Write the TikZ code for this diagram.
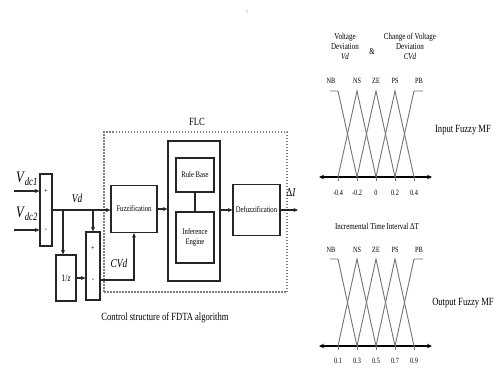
\documentclass[tikz,border=0pt]{standalone}
\usepackage{fontspec}
\setmainfont[FakeStretch=0.78]{Liberation Serif}
\usetikzlibrary{arrows.meta}
\begin{document}
\begin{tikzpicture}[x=1pt,y=-1pt,
  line/.style={draw=black!85,line width=1.2pt},
  arr/.style={line,-{Stealth[length=4.5pt,width=4pt]}},
  box/.style={draw=black!85,line width=1.2pt,inner sep=0pt,align=center,font=\fontsize{8.5}{10}\selectfont},
  lbl/.style={inner sep=0pt,align=center},
  sgn/.style={inner sep=0pt,font=\fontsize{8}{8}\selectfont},
  flcbox/.style={draw=black!50,line width=1.5pt,dash pattern=on 1.5pt off 1.5pt,inner sep=0pt},
  mf/.style={draw=black!55,line width=0.9pt},
  mfl/.style={inner sep=0pt,font=\fontsize{8}{8}\selectfont},
  ax/.style={draw=black,line width=1.4pt,{Stealth[length=5pt,width=4.5pt]}-{Stealth[length=5pt,width=4.5pt]}}
]
\useasboundingbox (0,0) rectangle (495,368);

\node[lbl,text=black!30,font=\fontsize{5}{6}\selectfont] (zero) at (247,12) {0};

% ---------- block diagram ----------
\node[box,minimum width=12pt,minimum height=72pt] (sum1) at (46,210) {};
\node[sgn] (p1) at (46,191) {+};
\node[sgn] (m1) at (46,230) {-};
\coordinate (i1) at (14,191);
\coordinate (i2) at (14,230);
\draw[arr] (i1) -- (i1 -| sum1.west);
\draw[arr] (i2) -- (i2 -| sum1.west);
\node[lbl,font=\fontsize{16}{16}\selectfont] (vdc1) at (27,179) {\textit{V}\textsubscript{\textit{dc1}}};
\node[lbl,font=\fontsize{16}{16}\selectfont] (vdc2) at (27,214) {\textit{V}\textsubscript{\textit{dc2}}};

\node[box,minimum width=46pt,minimum height=47pt] (fuzz) at (134,209) {Fuzzification};
\node[box,minimum width=52pt,minimum height=140pt] (kb) at (194,211) {};
\node[box,minimum width=38pt,minimum height=34pt] (rule) at (195,175) {Rule Base};
\node[box,minimum width=38pt,minimum height=51pt] (inf) at (195,237.5) {Inference\\Engine};
\node[box,minimum width=47pt,minimum height=51pt] (defuzz) at (256.5,210) {Defuzzification};

\node[flcbox,minimum width=183pt,minimum height=160pt] (flc) at (195.5,212) {};
\node[lbl,font=\fontsize{11}{11}\selectfont] (flclbl) at (197,122) {FLC};

\draw[arr] (sum1.east) -- (sum1.east -| fuzz.west);
\node[lbl,font=\fontsize{12}{12}\selectfont\itshape] (vd) at (77,198) {Vd};

\coordinate (b1) at (63,210);
\coordinate (b2) at (93,210);
\node[box,minimum width=20pt,minimum height=46pt,font=\fontsize{10}{10}\selectfont] (zbox) at (66,278) {1/\textit{z}};
\node[box,minimum width=14pt,minimum height=68pt] (sum2) at (93,266) {};
\node[sgn] (p2) at (93,248) {+};
\node[sgn] (m2) at (93,280) {-};
\draw[arr] (b1) -- (b1 |- zbox.north);
\draw[arr] (b2) -- (sum2.north);
\draw[arr] (zbox.east) -- (zbox.east -| sum2.west);
\draw[arr] (sum2.east |- m2) -| (fuzz.south);
\node[lbl,font=\fontsize{12}{12}\selectfont\itshape] (cvd) at (119,263) {CVd};

\draw[arr] (fuzz.east) -- (fuzz.east -| kb.west);
\draw[line] (rule.south) -- (inf.north);
\draw[arr] (kb.east |- defuzz.west) -- (defuzz.west);
\coordinate (out) at (298,210);
\draw[arr] (defuzz.east) -- (out);
\node[lbl,font=\fontsize{12}{12}\selectfont] (di) at (291,193) {Δ\textit{I}};

\node[lbl,font=\fontsize{11}{11}\selectfont] (cap) at (165,318) {Control structure of FDTA algorithm};

% ---------- input MF ----------
\node[lbl,font=\fontsize{9}{10}\selectfont] (vdev) at (345,46) {Voltage\\Deviation\\\textit{Vd}};
\node[lbl,font=\fontsize{9}{10}\selectfont] (amp) at (372,52) {\&};
\node[lbl,font=\fontsize{9}{10}\selectfont] (cvdev) at (410,46) {Change of Voltage\\Deviation\\\textit{CVd}};

\coordinate (ia) at (319,177);
\coordinate (ib) at (432,177);
\draw[ax] (ia) -- (ib);
\draw[mf] (330,91) -- (338,91) -- (357,177);
\draw[mf] (338,177) -- (357,91) -- (376,177);
\draw[mf] (357,177) -- (376,91) -- (395,177);
\draw[mf] (376,177) -- (395,91) -- (414,177);
\draw[mf] (395,177) -- (414,91) -- (423,91);
\foreach \x in {338,357,376,395,414} \draw[mf] (\x,177) -- (\x,181);
\node[mfl] (inb) at (331,81) {NB};
\node[mfl] (ins) at (357,81) {NS};
\node[mfl] (ize) at (376,81) {ZE};
\node[mfl] (ips) at (395,81) {PS};
\node[mfl] (ipb) at (419,81) {PB};
\node[mfl] (in1) at (338,193) {-0.4};
\node[mfl] (in2) at (357,193) {-0.2};
\node[mfl] (in3) at (376,193) {0};
\node[mfl] (in4) at (395,193) {0.2};
\node[mfl] (in5) at (414,193) {0.4};
\node[lbl,font=\fontsize{11}{11}\selectfont] (inmf) at (463,130) {Input Fuzzy MF};

% ---------- output MF ----------
\node[lbl,font=\fontsize{9}{10}\selectfont] (oti) at (377,226) {Incremental Time Interval ΔT};
\coordinate (oa) at (319,346);
\coordinate (ob) at (432,346);
\draw[ax] (oa) -- (ob);
\draw[mf] (330,259) -- (338,259) -- (357,346);
\draw[mf] (338,346) -- (357,259) -- (376,346);
\draw[mf] (357,346) -- (376,259) -- (395,346);
\draw[mf] (376,346) -- (395,259) -- (414,346);
\draw[mf] (395,346) -- (414,259) -- (423,259);
\foreach \x in {338,357,376,395,414} \draw[mf] (\x,346) -- (\x,350);
\node[mfl] (onb) at (331,250) {NB};
\node[mfl] (ons) at (357,250) {NS};
\node[mfl] (oze) at (376,250) {ZE};
\node[mfl] (ops) at (395,250) {PS};
\node[mfl] (opb) at (419,250) {PB};
\node[mfl] (on1) at (338,361) {0.1};
\node[mfl] (on2) at (357,361) {0.3};
\node[mfl] (on3) at (376,361) {0.5};
\node[mfl] (on4) at (395,361) {0.7};
\node[mfl] (on5) at (414,361) {0.9};
\node[lbl,font=\fontsize{11}{11}\selectfont] (outmf) at (463,303) {Output Fuzzy MF};
\end{tikzpicture}
\end{document}
